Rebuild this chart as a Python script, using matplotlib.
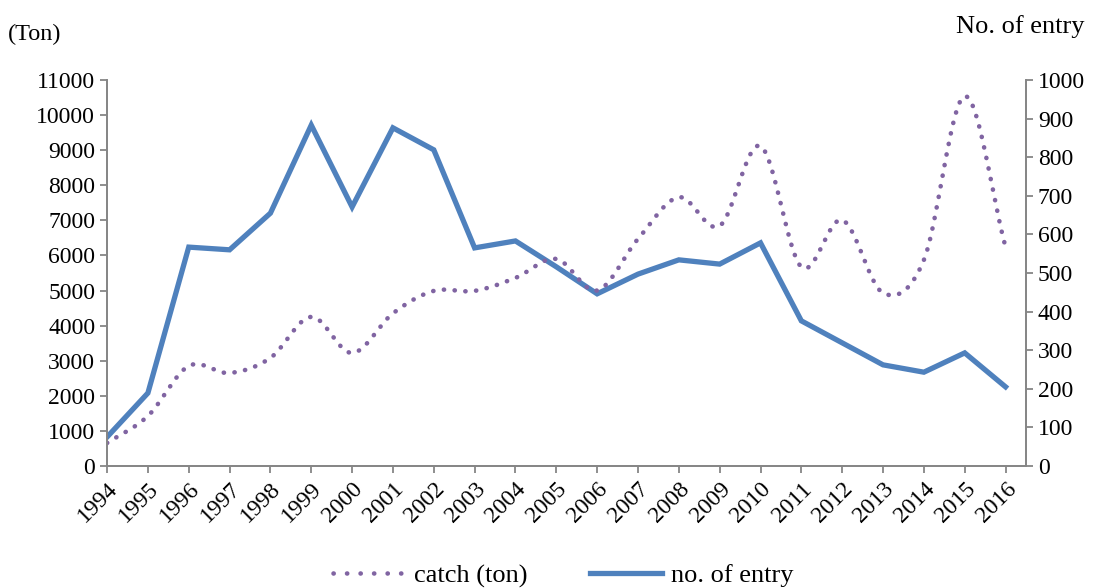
import numpy as np
import matplotlib
matplotlib.use("Agg")
import matplotlib.pyplot as plt
from matplotlib.lines import Line2D

years = list(range(1994, 2017))
catch_ton = [655, 1425, 2850, 2650, 3080, 4250, 3220, 4350, 4990, 4990, 5360, 5900,
             5000, 6470, 7660, 6840, 9120, 5670, 7010, 4930, 5870, 10540, 6240]
no_of_entry = [75, 189, 567, 560, 655, 883, 671, 876, 819, 565, 583, 516,
               446, 497, 534, 523, 578, 376, 319, 262, 243, 293, 205]

left_ticks = list(range(0, 11001, 1000))
right_ticks = list(range(0, 1001, 100))

purple = "#8064A2"
blue = "#4F81BD"
grey = "#868686"
fs = 17
fs_big = 19


def smooth(x, y, n=20):
    # Catmull-Rom curve through the points, like Excel's smoothed line
    x = np.asarray(x, float)
    y = np.asarray(y, float)
    px = np.concatenate([[2 * x[0] - x[1]], x, [2 * x[-1] - x[-2]]])
    py = np.concatenate([[2 * y[0] - y[1]], y, [2 * y[-1] - y[-2]]])
    xs, ys = [], []
    t = np.linspace(0, 1, n, endpoint=False)
    for i in range(1, len(px) - 2):
        for p, out in ((px, xs), (py, ys)):
            p0, p1, p2, p3 = p[i - 1], p[i], p[i + 1], p[i + 2]
            out.extend(0.5 * ((2 * p1) + (-p0 + p2) * t
                              + (2 * p0 - 5 * p1 + 4 * p2 - p3) * t ** 2
                              + (-p0 + 3 * p1 - 3 * p2 + p3) * t ** 3))
    xs.append(x[-1])
    ys.append(y[-1])
    return np.array(xs), np.array(ys)


plt.rcParams["font.family"] = ["Liberation Serif", "DejaVu Serif"]

fig = plt.figure(figsize=(10.98, 5.88), dpi=100)
ax = fig.add_axes([0.0975, 0.2075, 0.8369, 0.6565])
ax2 = ax.twinx()
ax.set_zorder(ax2.get_zorder() + 1)
ax.patch.set_visible(False)

sx, sy = smooth(years, catch_ton)
ax.plot(sx, sy, color=purple, lw=3.3, linestyle=(0, (0.05, 2.3)),
        dash_capstyle="round", solid_capstyle="round")
ax2.plot(years, no_of_entry, color=blue, lw=3.8, solid_joinstyle="miter")

ax.set_xlim(1994, 2016.5)
ax.set_ylim(0, 11000)
ax2.set_ylim(0, 1000)
ax.set_yticks(left_ticks)
ax2.set_yticks(right_ticks)
ax.set_xticks(years)
ax.set_xticklabels([str(y) for y in years], rotation=45, ha="right",
                   rotation_mode="anchor")

for a in (ax, ax2):
    a.spines["top"].set_visible(False)
    for s in ("left", "right", "bottom"):
        a.spines[s].set_color(grey)
        a.spines[s].set_linewidth(1.3)
    a.tick_params(colors=grey, labelcolor="black", labelsize=fs,
                  length=5, width=1.3, direction="out")
ax.tick_params(axis="x", pad=4)

fig.text(0.007, 0.942, "(Ton)", fontsize=17.5, ha="left", va="center")
fig.text(0.988, 0.955, "No. of entry", fontsize=fs_big, ha="right", va="center")

handles = [Line2D([], [], color=purple, lw=3.3, linestyle=(0, (0.05, 2.9)),
                  dash_capstyle="round"),
           Line2D([], [], color=blue, lw=3.8)]
fig.legend(handles, ["catch (ton)", "no. of entry"], loc="center",
           bbox_to_anchor=(0.513, 0.021), ncol=2, frameon=False,
           fontsize=fs_big, handlelength=2.7, handletextpad=0.35,
           columnspacing=2.4)

fig.savefig("out.png", dpi=100)
